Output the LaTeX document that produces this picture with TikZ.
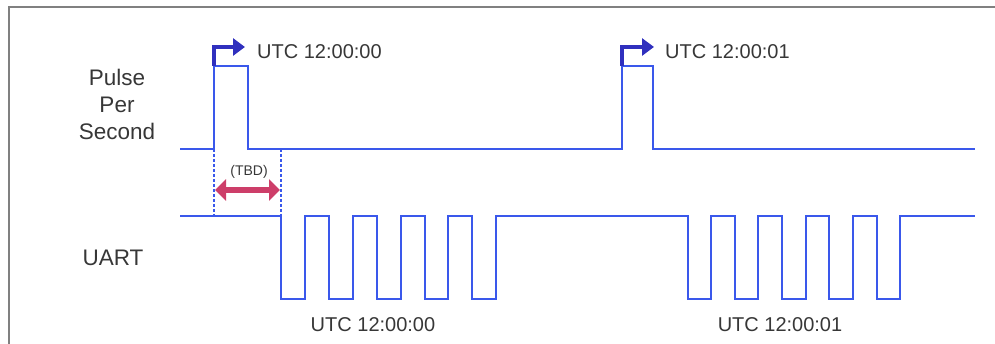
\documentclass[tikz,border=0pt]{standalone}
\usepackage{fontspec}
\setmainfont{Liberation Sans}
\usetikzlibrary{arrows.meta}
\definecolor{sigblue}{RGB}{58,88,235}
\definecolor{hookblue}{RGB}{48,48,190}
\definecolor{tbdpink}{RGB}{205,62,105}
\definecolor{txtgray}{RGB}{55,55,55}
\definecolor{framegray}{RGB}{128,128,128}
\begin{document}
\begin{tikzpicture}[x=1pt,y=-1pt,
  frame/.style={draw=framegray, line width=2pt},
  sig/.style={draw=sigblue, line width=2.8pt, line join=miter},
  guide/.style={draw=sigblue, line width=2pt, dash pattern=on 3pt off 2pt},
  hook/.style={draw=hookblue, line width=4.5pt, line join=miter,
    -{Triangle[length=12pt,width=17pt]}},
  span/.style={draw=tbdpink, line width=6pt,
    {Triangle[length=11pt,width=21pt]}-{Triangle[length=11pt,width=21pt]}},
  lbl/.style={text=txtgray, align=center, inner sep=0pt,
    font=\fontsize{22.5}{27}\selectfont},
  utc/.style={text=txtgray, inner sep=0pt, font=\fontsize{20}{24}\selectfont},
  small/.style={text=txtgray, inner sep=0pt, font=\fontsize{14}{16}\selectfont}]
\useasboundingbox (0,0) rectangle (995,344);

% outer frame (top and left edges)
\draw[frame] (9,344) -- (9,7.5) -- (995,7.5);

% signal names
\node[lbl] (ppsname) at (117,104) {Pulse\\Per\\Second};
\node[lbl] (uartname) at (113,258) {UART};

% pulse-per-second trace
\draw[sig] (180,149) -- (214,149) -- (214,66) -- (248,66) -- (248,149)
  -- (622,149) -- (622,66) -- (653,66) -- (653,149) -- (975,149);

% UART trace
\draw[sig] (180,216) -- (281,216)
  -- (281,299) -- (305,299) -- (305,216) -- (329,216)
  -- (329,299) -- (353,299) -- (353,216) -- (377,216)
  -- (377,299) -- (401,299) -- (401,216) -- (425,216)
  -- (425,299) -- (448,299) -- (448,216) -- (472,216)
  -- (472,299) -- (496,299) -- (496,216) -- (688,216)
  -- (688,299) -- (711,299) -- (711,216) -- (735,216)
  -- (735,299) -- (758,299) -- (758,216) -- (782,216)
  -- (782,299) -- (806,299) -- (806,216) -- (829,216)
  -- (829,299) -- (853,299) -- (853,216) -- (877,216)
  -- (877,299) -- (900,299) -- (900,216) -- (975,216);

% edge markers
\coordinate (pps1) at (214,66);
\coordinate (pps2) at (622,66);
\coordinate (g1top) at (214,149);
\coordinate (g1bot) at (214,216);
\coordinate (g2top) at (281,149);
\coordinate (g2bot) at (281,216);

% timestamp arrows on the rising edges
\coordinate (h1) at (245,47);
\coordinate (h2) at (654,47);
\draw[hook] (pps1) |- (h1);
\draw[hook] (pps2) |- (h2);
\node[utc, anchor=west] (t1) at (257,52) {UTC 12:00:00};
\node[utc, anchor=west] (t2) at (665,52) {UTC 12:00:01};

% latency between pulse and start of message
\draw[guide] (g1top) -- (g1bot);
\draw[guide] (g2top) -- (g2bot);
\coordinate (s1) at (215,190);
\coordinate (s2) at (280,190);
\draw[span] (s1) -- (s2);
\node[small] (tbd) at (249,172) {(TBD)};

% message contents
\node[utc] (m1) at (373,325) {UTC 12:00:00};
\node[utc] (m2) at (780,325) {UTC 12:00:01};
\end{tikzpicture}
\end{document}
